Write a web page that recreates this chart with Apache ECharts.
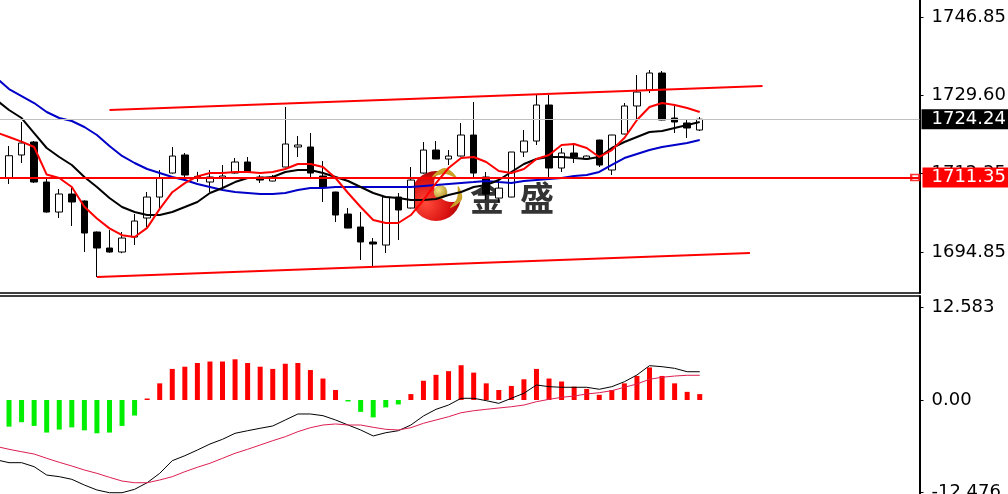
<!DOCTYPE html>
<html><head><meta charset="utf-8">
<script src="https://cdn.jsdelivr.net/npm/echarts@6/dist/echarts.min.js"></script>
<style>html,body{margin:0;padding:0;background:#fff;overflow:hidden}#c{width:1008px;height:494px}</style>
</head><body><div id="c"></div>
<script>
// bar index i = 0..55 (index -1 is a bar hidden off the left edge)
const candleOpen  = [1711.30,1716.33,1719.20,1710.35,1703.71,1707.70,1706.15,1699.29,1695.75,1694.87,1698.18,1702.39,1707.03,1712.34,1716.33,1711.30,1710.35,1711.24,1712.34,1714.78,1711.46,1710.57,1713.67,1718.10,1718.10,1711.68,1708.14,1703.27,1700.40,1697.08,1696.41,1707.03,1704.60,1712.34,1717.43,1715.44,1716.10,1720.75,1711.46,1706.80,1707.03,1716.99,1719.42,1727.39,1713.45,1716.77,1715.44,1719.64,1713.01,1720.97,1727.17,1730.71,1734.47,1724.51,1723.41,1721.86];
const candleHigh  = [1718.32,1723.63,1719.42,1711.24,1708.80,1709.02,1706.30,1699.40,1699.73,1699.29,1703.27,1708.14,1713.01,1718.10,1716.77,1712.60,1713.01,1714.11,1715.66,1715.88,1711.90,1711.90,1726.95,1720.53,1721.19,1715.00,1708.20,1704.60,1703.71,1697.96,1707.10,1707.92,1713.67,1719.20,1719.42,1717.43,1723.41,1728.05,1712.56,1710.50,1717.00,1721.86,1729.60,1729.60,1717.87,1718.98,1716.20,1719.70,1720.80,1727.83,1734.02,1735.13,1734.91,1727.39,1724.07,1724.73];
const candleLow   = [1709.91,1714.56,1710.13,1703.60,1702.39,1700.62,1694.87,1689.33,1694.70,1694.60,1696.41,1700.40,1704.60,1712.20,1710.79,1710.40,1708.14,1708.58,1712.20,1712.34,1710.13,1710.50,1713.60,1715.88,1711.46,1705.93,1701.50,1700.10,1693.10,1691.55,1694.64,1697.52,1704.50,1712.20,1715.40,1714.11,1716.00,1711.24,1706.37,1705.90,1707.00,1715.88,1718.54,1711.46,1712.56,1714.56,1715.30,1713.67,1711.90,1720.90,1723.85,1730.04,1724.00,1721.19,1720.09,1721.64];
const candleClose = [1716.17,1718.98,1710.35,1703.71,1707.70,1705.93,1699.07,1695.75,1694.87,1697.96,1701.72,1707.03,1711.24,1716.10,1711.90,1711.60,1711.46,1711.68,1714.78,1712.56,1710.79,1711.46,1718.76,1718.54,1712.34,1709.25,1703.05,1700.17,1697.08,1696.63,1707.03,1704.16,1710.79,1717.43,1715.44,1716.10,1720.75,1712.34,1707.70,1709.00,1716.99,1719.42,1727.39,1713.45,1716.77,1715.88,1716.10,1714.11,1720.75,1727.17,1730.26,1734.47,1724.07,1723.63,1722.30,1724.24];

// moving averages, index -1..55
const maRed   = [1721.3,1720.3,1719.3,1718.1,1712.0,1711.24,1709.25,1704.9,1702.3,1700.1,1698.6,1698.2,1700.2,1704.4,1708.1,1710.1,1711.6,1712.35,1712.35,1712.57,1712.57,1712.35,1712.57,1713.23,1714.34,1714.34,1713.67,1711.24,1707.92,1704.82,1701.95,1701.28,1701.28,1703.05,1706.37,1710.13,1713.45,1715.66,1715.89,1714.78,1712.79,1712.35,1713.23,1715.44,1716.33,1718.54,1718.76,1717.88,1715.89,1717.43,1720.09,1724.07,1726.95,1727.83,1727.39,1726.73,1725.84];
const maBlack = [1728.49,1726.28,1724.51,1721.19,1717.88,1715.89,1714.12,1711.46,1709.25,1706.81,1704.82,1703.72,1703.05,1703.05,1703.72,1704.82,1705.93,1707.92,1709.03,1710.35,1711.24,1711.24,1711.46,1712.57,1713.01,1713.01,1712.35,1711.46,1710.58,1709.25,1707.92,1707.04,1706.81,1706.37,1706.37,1706.59,1707.48,1708.14,1709.25,1709.69,1710.80,1712.57,1714.34,1715.44,1715.89,1715.89,1715.66,1715.44,1715.89,1717.88,1719.20,1720.31,1721.42,1721.64,1722.30,1722.96,1723.63];
const maBlue  = [1733.36,1730.93,1729.38,1727.83,1725.84,1724.51,1723.85,1722.52,1720.75,1718.32,1716.11,1714.56,1713.23,1712.35,1711.46,1710.80,1709.91,1709.25,1708.58,1708.14,1707.92,1707.70,1707.70,1707.92,1708.58,1709.03,1709.03,1709.25,1709.25,1709.25,1709.25,1709.25,1709.25,1709.25,1709.47,1709.69,1709.91,1710.13,1710.35,1710.58,1710.35,1710.13,1710.58,1710.80,1711.02,1711.24,1711.68,1711.90,1712.57,1714.12,1715.66,1716.55,1717.43,1718.10,1718.54,1718.98,1719.65];

// MACD panel, index -1..55
const macdHist   = ['-',-3.6,-3.0,-3.5,-4.4,-4.0,-3.7,-4.1,-4.5,-4.4,-3.5,-2.1,0.2,2.25,4.2,4.5,5.0,5.2,5.2,5.5,5.0,4.5,4.2,4.9,5.0,4.05,2.9,1.35,-0.2,-1.6,-2.35,-1.0,-0.6,0.8,2.6,3.4,3.9,4.7,3.7,2.25,1.35,1.9,2.8,4.2,2.9,2.5,1.8,1.5,0.7,1.35,2.25,3.25,4.4,3.25,2.25,1.1,0.8];
const macdLine   = [-8.08,-8.47,-8.47,-9.01,-10.14,-10.36,-10.72,-11.49,-12.16,-12.53,-12.53,-12.07,-11.18,-9.91,-8.20,-7.53,-6.76,-5.95,-5.31,-4.50,-4.15,-3.82,-3.51,-2.70,-1.89,-1.89,-2.12,-2.70,-3.38,-4.05,-4.86,-4.42,-4.15,-3.38,-2.16,-1.26,-0.68,0.23,0.23,-0.09,-0.45,0.23,0.91,2.03,1.80,1.72,1.72,1.72,1.45,1.80,2.47,3.38,4.64,4.50,4.28,3.82,3.82];
const signalLine = [-6.28,-6.66,-6.99,-7.30,-7.88,-8.42,-8.92,-9.46,-9.91,-10.45,-10.95,-11.18,-11.18,-10.81,-10.36,-9.69,-9.09,-8.55,-7.88,-7.20,-6.66,-6.08,-5.50,-4.96,-4.28,-3.74,-3.38,-3.24,-3.38,-3.38,-3.69,-3.96,-4.05,-3.74,-3.15,-2.70,-2.26,-1.72,-1.45,-1.26,-1.08,-0.91,-0.68,-0.23,0.09,0.36,0.54,0.81,0.99,1.26,1.72,2.16,2.80,3.07,3.24,3.34,3.34];

// axis tick labels
const priceTicks = [1746.85, 1729.60, 1712.35, 1694.85];
const macdTicks  = [12.583, 0, -12.476];

// price levels and channel (bar index, price)
const currentPrice = 1724.24;
const levelPrice   = 1711.35;
const channelUpperIdx = [8, 60];
const channelUpperVal = [1726.28, 1731.59];
const channelLowerIdx = [7, 59];
const channelLowerVal = [1689.33, 1694.64];
const totalSlots = 74;

const barIndex = Array.from({length: totalSlots}, (_, k) => String(k - 1));
const candleData = candleOpen.map((o, i) => [i + 1, o, candleClose[i], candleLow[i], candleHigh[i]]);

const FONT = 'DejaVu Sans';
const chart = echarts.init(document.getElementById('c'), null, {renderer: 'canvas'});

const yAxisCommon = {
  position: 'right',
  axisLine: {show: true, onZero: false, lineStyle: {color: '#000', width: 2}},
  splitLine: {show: false},
};

chart.setOption({
  animation: false,
  backgroundColor: '#fff',
  grid: [
    {left: -9.825, right: 88.5, top: 0, height: 293, outerBoundsMode: 'none', containLabel: false},
    {left: -9.825, right: 88.5, top: 296, height: 198, outerBoundsMode: 'none', containLabel: false}
  ],
  xAxis: [
    {type: 'category', gridIndex: 0, data: barIndex, boundaryGap: true,
     axisLine: {show: true, onZero: false, lineStyle: {color: '#000', width: 1.5}},
     axisTick: {show: false}, axisLabel: {show: false}, splitLine: {show: false}},
    {type: 'category', gridIndex: 1, data: barIndex, boundaryGap: true, position: 'top',
     axisLine: {show: true, onZero: false, lineStyle: {color: '#000', width: 1.5}},
     axisTick: {show: false}, axisLabel: {show: false}, splitLine: {show: false}}
  ],
  yAxis: [
    Object.assign({}, yAxisCommon, {
      type: 'value', gridIndex: 0, min: 1685.80, max: 1750.62, scale: true,
      axisTick: {show: true, inside: false, length: 4, customValues: priceTicks, lineStyle: {color: '#000', width: 1}},
      axisLabel: {show: true, customValues: priceTicks, margin: 12, color: '#000', fontSize: 18, fontFamily: FONT,
                  formatter: v => v.toFixed(2)}
    }),
    Object.assign({}, yAxisCommon, {
      type: 'value', gridIndex: 1, min: -12.703, max: 14.054,
      axisTick: {show: true, inside: false, length: 4, customValues: macdTicks, lineStyle: {color: '#000', width: 1}},
      axisLabel: {show: true, customValues: macdTicks, margin: 12, color: '#000', fontSize: 18, fontFamily: FONT,
                  formatter: v => (v === 0 ? '0.00' : String(v))}
    })
  ],
  graphic: [
    {type: 'circle', z: 0, silent: true, shape: {cx: 436, cy: 196, r: 25},
     style: {fill: {type: 'radial', x: 0.3, y: 0.65, r: 0.8,
       colorStops: [{offset: 0, color: '#ff4a3a'}, {offset: 0.6, color: '#d81010'}, {offset: 1, color: '#8a0000'}]}}},
    {type: 'circle', z: 0, silent: true, shape: {cx: 452, cy: 184, r: 18}, style: {fill: '#fff'}},
    {type: 'polygon', z: 0, silent: true, shape: {points: [[432, 177], [445, 168], [457, 178], [445, 174]], smooth: 0.4},
     style: {fill: '#c9a227'}},
    {type: 'polygon', z: 0, silent: true, shape: {points: [[458, 186], [462, 199], [450, 208], [457, 198]], smooth: 0.4},
     style: {fill: '#c9a227'}},
    {type: 'circle', z: 0, silent: true, shape: {cx: 440.5, cy: 192, r: 6.8},
     style: {fill: {type: 'radial', x: 0.35, y: 0.35, r: 0.8,
       colorStops: [{offset: 0, color: '#f7e58a'}, {offset: 1, color: '#a88418'}]}}},
    {type: 'text', z: 0, silent: true, style: {text: '金', x: 487, y: 198, textAlign: 'center', textVerticalAlign: 'middle',
       fill: '#333333', font: 'bold 34px "Noto Sans CJK SC"'}},
    {type: 'text', z: 0, silent: true, style: {text: '盛', x: 537, y: 198, textAlign: 'center', textVerticalAlign: 'middle',
       fill: '#333333', font: 'bold 34px "Noto Sans CJK SC"'}}
  ],
  series: [
    {
      type: 'candlestick', xAxisIndex: 0, yAxisIndex: 0,
      data: candleData, encode: {x: 0, y: [1, 2, 3, 4]},
      barWidth: 7,
      itemStyle: {color: '#ffffff', color0: '#000000', borderColor: '#000000', borderColor0: '#000000', borderWidth: 1},
      markLine: {
        silent: true, symbol: 'none', animation: false,
        data: [
          {yAxis: currentPrice, lineStyle: {color: '#c0c0c0', width: 1, type: 'solid'},
           label: {show: true, position: 'end', distance: 2, formatter: p => p.value.toFixed(2),
                   color: '#fff', backgroundColor: '#000', padding: [1, 30, 1, 10], lineHeight: 18,
                   fontSize: 18, fontFamily: FONT}},
          {yAxis: levelPrice, lineStyle: {color: '#ff0000', width: 2, type: 'solid'},
           label: {show: true, position: 'end', distance: 3, formatter: p => p.value.toFixed(2),
                   color: '#fff', backgroundColor: '#ff0000', padding: [1, 30, 1, 9], lineHeight: 18,
                   fontSize: 18, fontFamily: FONT}},
          [{coord: [channelUpperIdx[0] + 1, channelUpperVal[0]]}, {coord: [channelUpperIdx[1] + 1, channelUpperVal[1]]}],
          [{coord: [channelLowerIdx[0] + 1, channelLowerVal[0]]}, {coord: [channelLowerIdx[1] + 1, channelLowerVal[1]]}]
        ],
        lineStyle: {color: '#ff0000', width: 2, type: 'solid'},
        label: {show: false}
      }
    },
    {type: 'line', xAxisIndex: 0, yAxisIndex: 0, data: maBlue, showSymbol: false, symbol: 'none',
     lineStyle: {color: '#0000c8', width: 2}, itemStyle: {color: '#0000c8'}},
    {type: 'line', xAxisIndex: 0, yAxisIndex: 0, data: maBlack, showSymbol: false, symbol: 'none',
     lineStyle: {color: '#000000', width: 2}, itemStyle: {color: '#000'}},
    {type: 'line', xAxisIndex: 0, yAxisIndex: 0, data: maRed, showSymbol: false, symbol: 'none',
     lineStyle: {color: '#ff0000', width: 2}, itemStyle: {color: '#ff0000'}},
    {type: 'scatter', xAxisIndex: 0, yAxisIndex: 0, data: [[totalSlots - 1, levelPrice]],
     symbol: 'emptyRect', symbolSize: [8, 6], symbolOffset: [2, 0], silent: true,
     itemStyle: {color: '#ff0000', borderColor: '#ff0000', borderWidth: 1.5}},
    {type: 'bar', xAxisIndex: 1, yAxisIndex: 1, data: macdHist, barWidth: 5,
     itemStyle: {color: p => (p.value >= 0 ? '#ff0000' : '#00ee00')}},
    {type: 'line', xAxisIndex: 1, yAxisIndex: 1, data: macdLine, showSymbol: false, symbol: 'none',
     lineStyle: {color: '#000000', width: 1}},
    {type: 'line', xAxisIndex: 1, yAxisIndex: 1, data: signalLine, showSymbol: false, symbol: 'none',
     lineStyle: {color: '#dc1e50', width: 1}}
  ]
});
</script>
</body></html>
